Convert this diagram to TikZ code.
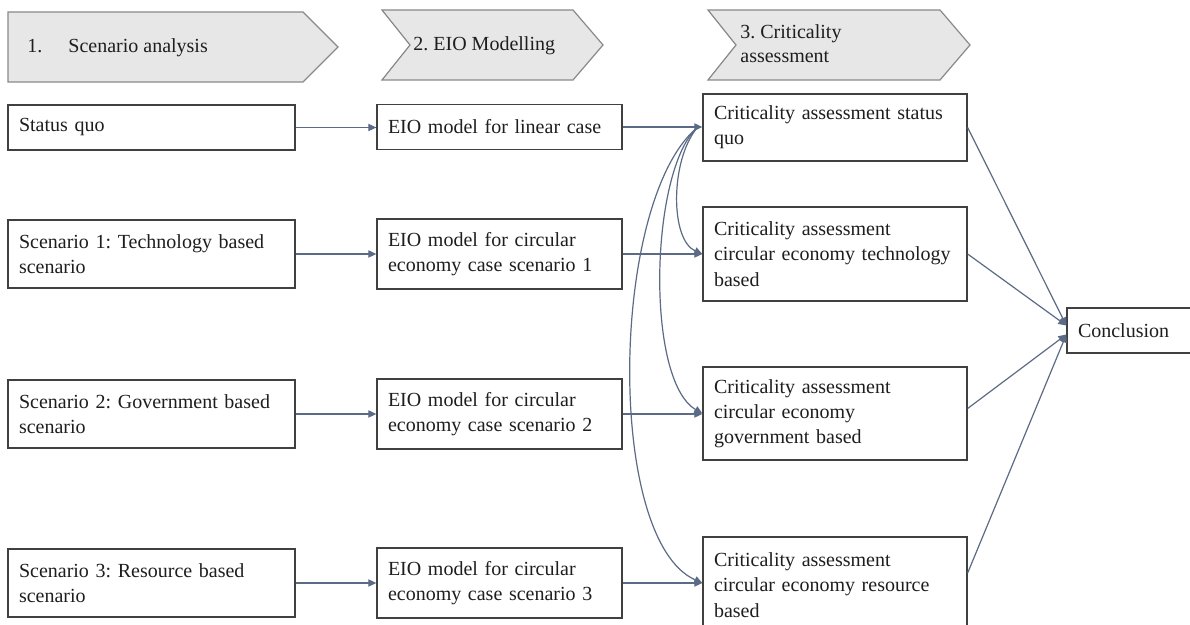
\documentclass[tikz,border=0pt]{standalone}
\usepackage{fontspec}
\setmainfont{Liberation Serif}
\frenchspacing
\usetikzlibrary{arrows.meta,calc}
\definecolor{boxline}{HTML}{404040}
\definecolor{connc}{HTML}{5B6B85}
\definecolor{chevfill}{HTML}{E7E7E7}
\definecolor{chevline}{HTML}{8A8A8A}
\definecolor{txt}{HTML}{1E1E1E}
\begin{document}
\begin{tikzpicture}[x=0.5pt,y=-0.5pt,
  every node/.style={font=\fontsize{10}{12.6}\selectfont, text=txt},
  box/.style={draw=boxline, line width=0.65pt, fill=white, align=left, inner xsep=5.5pt, inner ysep=0pt},
  col1/.style={box, minimum width=143.5pt, text width=132.5pt},
  col2/.style={box, minimum width=122.5pt, text width=111.5pt},
  col3/.style={box, minimum width=132pt, text width=121pt},
  conn/.style={draw=connc, line width=0.6pt, -{Triangle[length=4pt,width=3.6pt]}},
  chev/.style={draw=chevline, fill=chevfill, line width=0.6pt},
  chevtext/.style={anchor=base west, inner sep=0pt, align=left},
]
\useasboundingbox (0,0) rectangle (1190,625);
\fill[white] (0,0) rectangle (1190,625);

% header chevrons
\draw[chev] (8,12) -- (303,12) -- (338,47) -- (303,82) -- (8,82) -- cycle;
\node[chevtext] (h1) at (27,53) {1.\hspace{13pt}Scenario analysis};
\draw[chev] (382,10) -- (573,10) -- (603,45) -- (573,80) -- (382,80) -- (410,45) -- cycle;
\node[chevtext] (h2) at (413,51) {2. EIO Modelling};
\draw[chev] (708,10) -- (940,10) -- (970,45) -- (940,80) -- (708,80) -- (736,45) -- cycle;
\node[chevtext] (h3) at (740,63) {3. Criticality\\[-0.6pt]assessment};

% column 1
\node[col1, minimum height=22.5pt] (sq) at (151.5,127.5) {Status quo};
\node[col1, minimum height=34pt] (s1) at (151.5,254) {Scenario 1: Technology based\\scenario};
\node[col1, minimum height=34pt] (s2) at (151.5,414) {Scenario 2: Government based\\scenario};
\node[col1, minimum height=34pt] (s3) at (151.5,583) {Scenario 3: Resource based\\scenario};

% column 2
\node[col2, minimum height=22.5pt] (e0) at (499.5,127) {EIO model for linear case};
\node[col2, minimum height=35pt] (e1) at (499.5,254) {EIO model for circular\\economy case scenario 1};
\node[col2, minimum height=35pt] (e2) at (499.5,414) {EIO model for circular\\economy case scenario 2};
\node[col2, minimum height=35pt] (e3) at (499.5,583) {EIO model for circular\\economy case scenario 3};

% column 3
\node[col3, minimum height=33.5pt] (c0) at (835,127.5) {Criticality assessment status\\quo};
\node[col3, minimum height=47pt] (c1) at (835,254) {Criticality assessment\\circular economy technology\\based};
\node[col3, minimum height=46.5pt] (c2) at (835,413.5) {Criticality assessment\\circular economy\\government based};
\node[col3, minimum height=48pt] (c3) at (835,585) {Criticality assessment\\circular economy resource\\based};

% conclusion
\node[box, minimum width=63.5pt, text width=53.5pt, minimum height=22.5pt] (cc) at (1131.5,330.5) {Conclusion};

% straight connectors
\draw[conn] (sq.east) -- (sq.east -| e0.west);
\draw[conn] (s1.east) -- (s1.east -| e1.west);
\draw[conn] (s2.east) -- (s2.east -| e2.west);
\draw[conn] (s3.east) -- (s3.east -| e3.west);
\draw[conn] (e0.east) -- (e0.east -| c0.west);
\draw[conn] (e1.east) -- (e1.east -| c1.west);
\draw[conn] (e2.east) -- (e2.east -| c2.west);
\draw[conn] (e3.east) -- (e3.east -| c3.west);

% curved connectors from the status quo assessment entry
\coordinate (hub) at ($(c0.west)+(-5,0)$);
\draw[conn] (hub) .. controls (670,160) and (670,240) .. (c1.west);
\draw[conn] (hub) .. controls (650,170) and (645,380) .. (c2.west);
\draw[conn] (hub) .. controls (610,200) and (605,540) .. ($(c3.west)+(0,-2)$);

% to conclusion
\draw[conn] (c0.east) -- ($(cc.west)+(0,-5)$);
\draw[conn] (c1.east) -- ($(cc.west)+(0,-5)$);
\draw[conn] ($(c2.east)+(0,-5)$) -- ($(cc.west)+(0,4)$);
\draw[conn] ($(c3.east)+(0,-12)$) -- ($(cc.west)+(0,4)$);
\end{tikzpicture}
\end{document}
